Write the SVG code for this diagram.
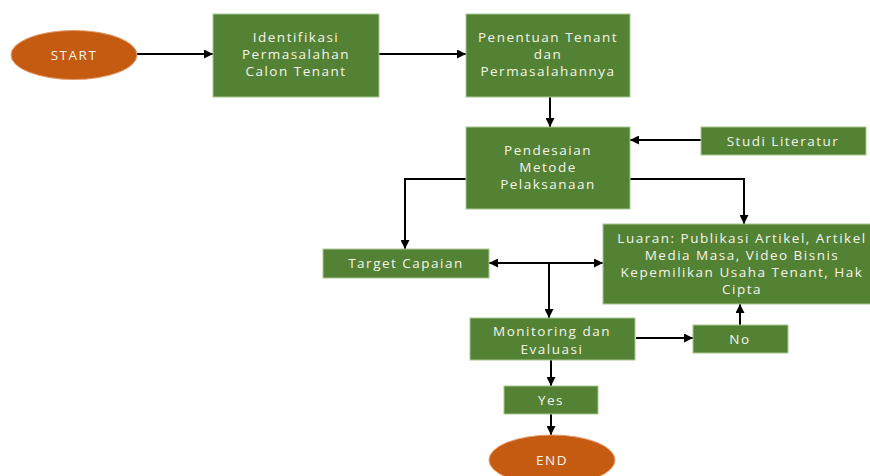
<svg xmlns="http://www.w3.org/2000/svg" width="870" height="476" viewBox="0 0 870 476">
<defs>
<marker id="ah" viewBox="0 0 10 10" refX="10" refY="5" markerWidth="10" markerHeight="9" markerUnits="userSpaceOnUse" orient="auto-start-reverse">
<path d="M0,0 L10,5 L0,10 z" fill="#000"/>
</marker>
<style>
.box{fill:#548235;stroke:#a9c78f;stroke-width:1}
.oval{fill:#c55a11;stroke:#e89a6a;stroke-width:1}
text{font-family:"Open Sans","Liberation Sans",sans-serif;font-size:13.5px;fill:#f4f4ea;text-anchor:middle;letter-spacing:1.5px}
.c{fill:none;stroke:#000;stroke-width:2;marker-end:url(#ah)}
</style>
</defs>
<rect width="870" height="476" fill="#fff"/>
<g id="connectors">
<line class="c" x1="137" y1="54" x2="213" y2="54"/>
<line class="c" x1="379" y1="54" x2="466" y2="54"/>
<line class="c" x1="550" y1="97" x2="550" y2="127"/>
<line class="c" x1="701" y1="140" x2="630" y2="140"/>
<polyline class="c" points="466,179 405,179 405,249"/>
<polyline class="c" points="630,179 744,179 744,224"/>
<line class="c" x1="489" y1="263" x2="603" y2="263" style="marker-start:url(#ah)"/>
<line class="c" x1="549" y1="263" x2="549" y2="318"/>
<line class="c" x1="636" y1="338" x2="693" y2="338"/>
<line class="c" x1="740" y1="325" x2="740" y2="304"/>
<line class="c" x1="551" y1="360" x2="551" y2="386"/>
<line class="c" x1="551" y1="414" x2="551" y2="435"/>
</g>
<g id="start">
<ellipse class="oval" cx="74" cy="55" rx="63" ry="24.5"/>
<text x="74" y="60">START</text>
</g>
<g id="identifikasi">
<rect class="box" x="213" y="14" width="166" height="83"/>
<text x="296" y="42">Identifikasi</text>
<text x="296" y="59">Permasalahan</text>
<text x="296" y="76">Calon Tenant</text>
</g>
<g id="penentuan">
<rect class="box" x="466" y="14" width="164" height="83"/>
<text x="548" y="42">Penentuan Tenant</text>
<text x="548" y="59">dan</text>
<text x="548" y="76">Permasalahannya</text>
</g>
<g id="pendesaian">
<rect class="box" x="466" y="127" width="164" height="82"/>
<text x="548" y="155">Pendesaian</text>
<text x="548" y="172">Metode</text>
<text x="548" y="189">Pelaksanaan</text>
</g>
<g id="studi">
<rect class="box" x="701" y="127" width="165" height="28"/>
<text x="783" y="146">Studi Literatur</text>
</g>
<g id="target">
<rect class="box" x="323" y="249" width="166" height="29"/>
<text x="406" y="268">Target Capaian</text>
</g>
<g id="luaran">
<rect class="box" x="603" y="224" width="272" height="80"/>
<text x="742" y="243">Luaran: Publikasi Artikel, Artikel</text>
<text x="742" y="260">Media Masa, Video Bisnis</text>
<text x="742" y="277">Kepemilikan Usaha Tenant, Hak</text>
<text x="742" y="294">Cipta</text>
</g>
<g id="monitoring">
<rect class="box" x="470" y="318" width="165" height="42"/>
<text x="552" y="336">Monitoring dan</text>
<text x="552" y="354">Evaluasi</text>
</g>
<g id="no">
<rect class="box" x="693" y="325" width="95" height="28"/>
<text x="740" y="344">No</text>
</g>
<g id="yes">
<rect class="box" x="504" y="386" width="94" height="28"/>
<text x="551" y="405">Yes</text>
</g>
<g id="end">
<ellipse class="oval" cx="552" cy="460" rx="63" ry="25"/>
<text x="552" y="465">END</text>
</g>
</svg>
